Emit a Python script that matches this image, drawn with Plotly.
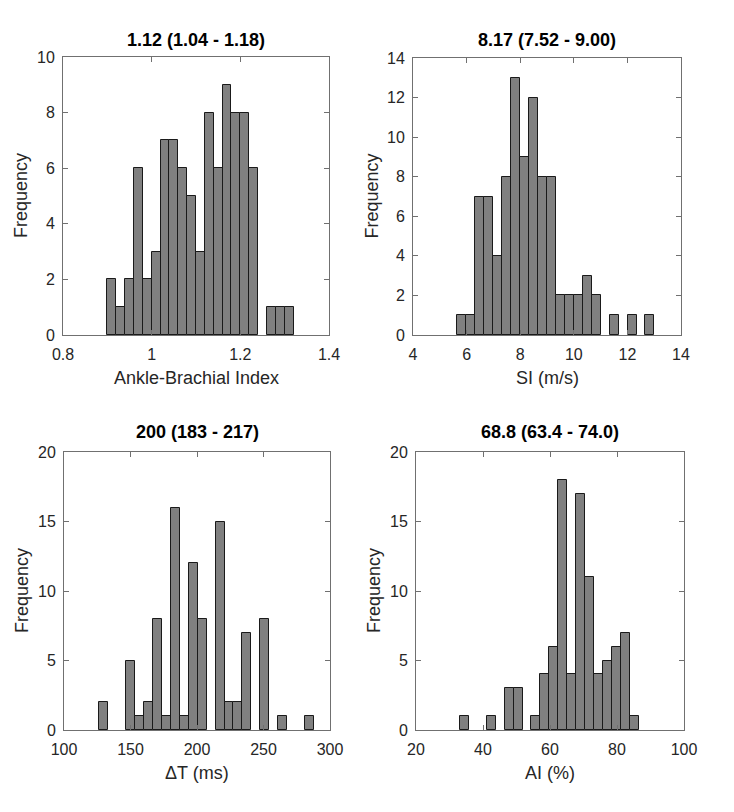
import plotly.graph_objects as go

# ---- data (histogram bins) ----
abi_start, abi_width = 0.90, 0.02
abi_counts = [2, 1, 2, 6, 2, 3, 7, 7, 6, 5, 3, 8, 6, 9, 8, 8, 6, 0, 1, 1, 1]

si_start, si_width = 5.66, 0.334
si_counts = [1, 1, 7, 7, 4, 8, 13, 9, 12, 8, 8, 2, 2, 2, 3, 2, 0, 1, 0, 1, 0, 1]

dt_start, dt_width = 126.6, 6.72
dt_counts = [2, 0, 0, 5, 1, 2, 8, 1, 16, 1, 12, 8, 0, 15, 2, 2, 7, 0, 8, 0, 1, 0, 0, 1]

ai_start, ai_width = 33.13, 2.667
ai_counts = [1, 0, 0, 1, 0, 3, 3, 0, 1, 4, 6, 18, 4, 17, 11, 4, 5, 6, 7, 1]

titles = ["1.12 (1.04 - 1.18)", "8.17 (7.52 - 9.00)", "200 (183 - 217)", "68.8 (63.4 - 74.0)"]
xlabels = ["Ankle-Brachial Index", "SI (m/s)", "\u0394T (ms)", "AI (%)"]
xranges = [[0.8, 1.4], [4, 14], [100, 300], [20, 100]]
xticks = [[0.8, 1.0, 1.2, 1.4], [4, 6, 8, 10, 12, 14], [100, 150, 200, 250, 300], [20, 40, 60, 80, 100]]
xticklabels = [["0.8", "1", "1.2", "1.4"], ["4", "6", "8", "10", "12", "14"],
               ["100", "150", "200", "250", "300"], ["20", "40", "60", "80", "100"]]
yranges = [[0, 10], [0, 14], [0, 20], [0, 20]]
ydticks = [2, 2, 5, 5]

W, H = 734, 812
# panel boxes in pixels: (left, right, top, bottom)
boxes = [(63, 329, 57, 335), (413, 681, 58, 335), (64, 330, 452, 730), (416, 684, 452, 730)]
title_gap = [17, 18, 20, 20]

hists = [(abi_start, abi_width, abi_counts), (si_start, si_width, si_counts),
         (dt_start, dt_width, dt_counts), (ai_start, ai_width, ai_counts)]

TXT = "#262626"
FONT = "Liberation Sans, Arial, sans-serif"

fig = go.Figure()
annotations = []
for i, ((start, width, counts), box) in enumerate(zip(hists, boxes)):
    n = i + 1
    xs = [start + width * (k + 0.5) for k in range(len(counts))]
    keep = [k for k, c in enumerate(counts) if c > 0]
    fig.add_trace(go.Bar(
        x=[xs[k] for k in keep], y=[counts[k] for k in keep], width=[width] * len(keep),
        marker=dict(color="#808080", line=dict(color="#1a1a1a", width=1)),
        xaxis="x" if n == 1 else f"x{n}", yaxis="y" if n == 1 else f"y{n}",
        showlegend=False, hoverinfo="x+y",
    ))
    l, r, t, b = box
    xd = [l / W, r / W]
    yd = [1 - b / H, 1 - t / H]
    axcommon = dict(showline=True, linecolor="#707070", linewidth=1, mirror="ticks",
                    ticks="inside", ticklen=5, tickcolor="#707070", showgrid=False,
                    zeroline=False, automargin=False,
                    tickfont=dict(family=FONT, size=16, color=TXT))
    xa = dict(domain=xd, range=xranges[i], tickmode="array", tickvals=xticks[i],
              ticktext=xticklabels[i], anchor="y" if n == 1 else f"y{n}",
              ticklabelstandoff=5, **axcommon)
    ya = dict(domain=yd, range=yranges[i], dtick=ydticks[i], tick0=0,
              anchor="x" if n == 1 else f"x{n}", ticklabelstandoff=4, **axcommon)
    fig.layout["xaxis" if n == 1 else f"xaxis{n}"] = xa
    fig.layout["yaxis" if n == 1 else f"yaxis{n}"] = ya

    cx = (l + r) / 2 / W
    annotations.append(dict(text=f"<b>{titles[i]}</b>", x=cx, y=1 - (t - title_gap[i]) / H,
                            xref="paper", yref="paper", showarrow=False,
                            xanchor="center", yanchor="middle",
                            font=dict(family=FONT, size=18, color="#000000")))
    annotations.append(dict(text=xlabels[i], x=cx, y=1 - (b + 43) / H,
                            xref="paper", yref="paper", showarrow=False,
                            xanchor="center", yanchor="middle",
                            font=dict(family=FONT, size=18, color=TXT)))
    annotations.append(dict(text="Frequency", x=(l - 42) / W, y=(yd[0] + yd[1]) / 2,
                            xref="paper", yref="paper", showarrow=False, textangle=-90,
                            xanchor="center", yanchor="middle",
                            font=dict(family=FONT, size=18, color=TXT)))

fig.update_layout(width=W, height=H, margin=dict(l=0, r=0, t=0, b=0, autoexpand=False),
                  paper_bgcolor="white", plot_bgcolor="white", bargap=0,
                  annotations=annotations)
fig.write_html("out.html", config={"displayModeBar": False},
               post_script="document.body.style.margin='0px';")
